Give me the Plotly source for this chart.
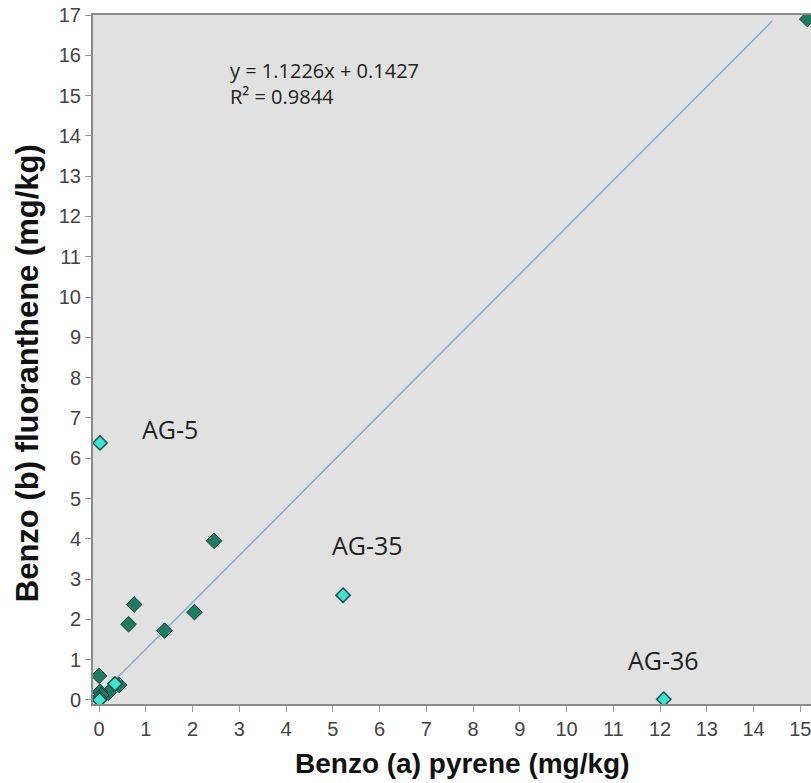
import plotly.graph_objects as go

# Data (mg/kg)
green_x = [15.15, 2.46, 0.75, 0.63, 1.40, 2.04, 0.00, 0.43, 0.20, 0.02, 0.05, 0.00]
green_y = [16.90, 3.95, 2.37, 1.88, 1.72, 2.18, 0.60, 0.37, 0.18, 0.20, 0.12, 0.05]
cyan_x = [0.02, 5.22, 12.08, 0.34, 0.01]
cyan_y = [6.38, 2.60, 0.02, 0.40, 0.00]
label_text = ["AG-5", "AG-35", "AG-36"]
label_x = [0.88, 4.94, 11.28]
label_y = [6.72, 3.85, 0.98]
trend_x = [0.0, 14.4]
trend_y = [0.10, 16.85]
x_ticks = list(range(0, 16))
y_ticks = list(range(0, 18))
equation = "y = 1.1226x + 0.1427<br>R² = 0.9844"

fig = go.Figure()
fig.add_trace(go.Scatter(x=trend_x, y=trend_y, mode="lines",
                         line=dict(color="#86AED3", width=1.6), hoverinfo="skip"))
fig.add_trace(go.Scatter(x=green_x, y=green_y, mode="markers",
                         marker=dict(symbol="diamond", size=12, color="#1E7A63",
                                     line=dict(color="#0D3B31", width=1))))
fig.add_trace(go.Scatter(x=cyan_x, y=cyan_y, mode="markers",
                         marker=dict(symbol="diamond", size=11, color="#3CE4D2",
                                     line=dict(color="#1B4F4C", width=1.5))))

for t, x, y in zip(label_text, label_x, label_y):
    fig.add_annotation(x=x, y=y, text=t, showarrow=False, xanchor="left", yanchor="middle",
                       font=dict(family="Open Sans", size=25, color="#222"))

fig.add_annotation(x=2.76, y=15.3, text=equation, showarrow=False, xanchor="left",
                   yanchor="middle", align="left",
                   font=dict(family="Open Sans", size=20, color="#222"))

fig.add_annotation(xref="paper", yref="paper", x=0.514, y=-0.087, yanchor="middle",
                   text="<b>Benzo (a) pyrene (mg/kg)</b>", showarrow=False,
                   font=dict(family="Liberation Sans", size=28, color="#111"))
fig.add_annotation(xref="paper", yref="paper", x=-0.092, y=0.48, xanchor="center",
                   yanchor="middle",
                   text="<b>Benzo (b) fluoranthene (mg/kg)</b>", showarrow=False, textangle=-90,
                   font=dict(family="Liberation Sans", size=31, color="#111"))

fig.update_layout(
    width=811, height=783,
    margin=dict(l=93, r=0, t=15, b=79),
    paper_bgcolor="white", plot_bgcolor="#E1E1E1",
    showlegend=False,
    font=dict(family="Liberation Sans", size=20, color="#444"),
)
fig.update_xaxes(range=[-0.13, 15.23], tickvals=x_ticks, showgrid=False, zeroline=False,
                 showline=True, linecolor="#8A8A8A", linewidth=2, mirror=True,
                 ticks="outside", ticklen=6, tickcolor="#999", ticklabeloverflow="allow",
                 tickfont=dict(size=20, color="#444"))
fig.update_yaxes(range=[-0.1, 17.0], tickvals=y_ticks, showgrid=False, zeroline=False,
                 showline=True, linecolor="#8A8A8A", linewidth=2, mirror=False,
                 ticks="outside", ticklen=6, tickcolor="#999", ticklabeloverflow="allow",
                 tickfont=dict(size=20, color="#444"))

fig.write_html("out.html", config={"displayModeBar": False},
               post_script="document.body.style.margin='0';document.body.style.overflow='hidden';")
